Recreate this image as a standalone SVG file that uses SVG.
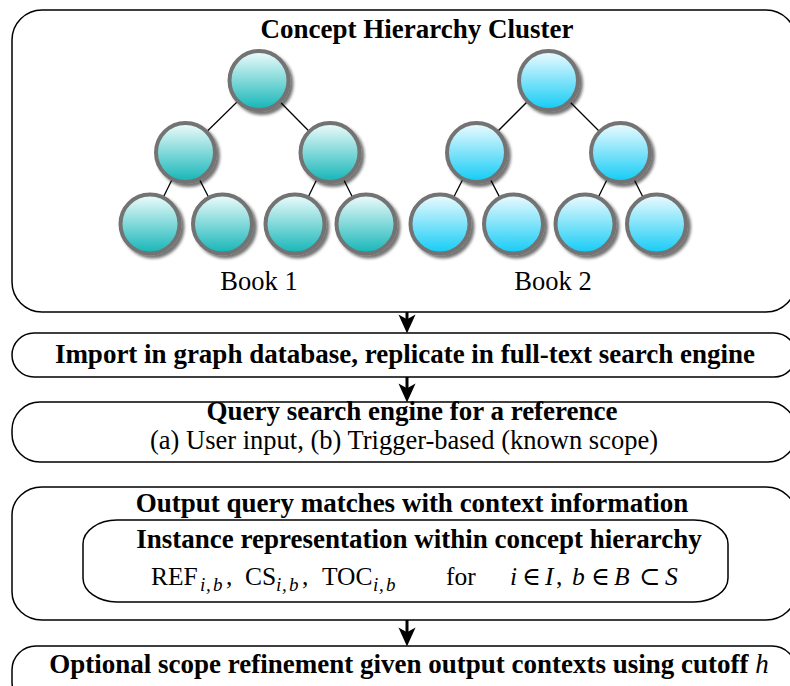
<svg xmlns="http://www.w3.org/2000/svg" width="790" height="686" viewBox="0 0 790 686">
<style>
.box{fill:none;stroke:#000;stroke-width:1.5}
.t{font-family:"Liberation Serif","Times New Roman","DejaVu Serif",serif;fill:#000}
.b{font-weight:bold;font-size:27px}
.r{font-size:26.5px}
.m{font-size:25.5px}
.s{font-size:19px;font-style:italic}
.it{font-style:italic}
.edge{stroke:#000;stroke-width:1.3}
.arr{stroke:#000;stroke-width:3;marker-end:url(#ah)}
.c1{fill:url(#g1);stroke:#737373;stroke-width:4;filter:url(#sh)}
.c2{fill:url(#g2);stroke:#737373;stroke-width:4;filter:url(#sh)}
</style>
<defs>
<linearGradient id="g1" x1="0" y1="0" x2="0" y2="1">
<stop offset="0" stop-color="#f0fcfc"/>
<stop offset="1" stop-color="#13b5b7"/>
</linearGradient>
<linearGradient id="g2" x1="0" y1="0" x2="0" y2="1">
<stop offset="0" stop-color="#effbff"/>
<stop offset="1" stop-color="#12cbf5"/>
</linearGradient>
<filter id="sh" x="-30%" y="-30%" width="160%" height="160%">
<feDropShadow dx="3" dy="3" stdDeviation="1.8" flood-color="#000" flood-opacity="0.55"/>
</filter>
<marker id="ah" viewBox="0 0 20 20" markerUnits="userSpaceOnUse" markerWidth="19" markerHeight="19" refX="8" refY="10" orient="auto">
<path d="M0,1 L20,10 L0,19 L5,10 Z" fill="#000"/>
</marker>
</defs>

<g id="connectors">
<line class="edge" x1="259" y1="80.5" x2="185.5" y2="152.5"/>
<line class="edge" x1="259" y1="80.5" x2="330" y2="152.5"/>
<line class="edge" x1="185.5" y1="152.5" x2="150" y2="224"/>
<line class="edge" x1="185.5" y1="152.5" x2="222.5" y2="224"/>
<line class="edge" x1="330" y1="152.5" x2="295" y2="224"/>
<line class="edge" x1="330" y1="152.5" x2="366" y2="224"/>
<line class="edge" x1="548.5" y1="80.5" x2="476.5" y2="152.5"/>
<line class="edge" x1="548.5" y1="80.5" x2="620.5" y2="152.5"/>
<line class="edge" x1="476.5" y1="152.5" x2="440" y2="224"/>
<line class="edge" x1="476.5" y1="152.5" x2="513.5" y2="224"/>
<line class="edge" x1="620.5" y1="152.5" x2="585" y2="224"/>
<line class="edge" x1="620.5" y1="152.5" x2="656.5" y2="224"/>
<line class="arr" x1="407" y1="312" x2="407" y2="322"/>
<line class="arr" x1="407" y1="377" x2="407" y2="391"/>
<line class="arr" x1="407" y1="620" x2="407" y2="635"/>
</g>

<g id="cluster">
<rect class="box" x="12" y="10" width="784" height="302" rx="30" ry="30"/>
<text class="t b" x="417" y="38" text-anchor="middle">Concept Hierarchy Cluster</text>
<text class="t r" x="259" y="290" text-anchor="middle">Book 1</text>
<text class="t r" x="553" y="290" text-anchor="middle">Book 2</text>
</g>

<g id="book1-root"><circle class="c1" cx="259" cy="80.5" r="29.5"/></g>
<g id="book1-l"><circle class="c1" cx="185.5" cy="152.5" r="29.5"/></g>
<g id="book1-r"><circle class="c1" cx="330" cy="152.5" r="29.5"/></g>
<g id="book1-ll"><circle class="c1" cx="150" cy="224" r="29.5"/></g>
<g id="book1-lr"><circle class="c1" cx="222.5" cy="224" r="29.5"/></g>
<g id="book1-rl"><circle class="c1" cx="295" cy="224" r="29.5"/></g>
<g id="book1-rr"><circle class="c1" cx="366" cy="224" r="29.5"/></g>

<g id="book2-root"><circle class="c2" cx="548.5" cy="80.5" r="29.5"/></g>
<g id="book2-l"><circle class="c2" cx="476.5" cy="152.5" r="29.5"/></g>
<g id="book2-r"><circle class="c2" cx="620.5" cy="152.5" r="29.5"/></g>
<g id="book2-ll"><circle class="c2" cx="440" cy="224" r="29.5"/></g>
<g id="book2-lr"><circle class="c2" cx="513.5" cy="224" r="29.5"/></g>
<g id="book2-rl"><circle class="c2" cx="585" cy="224" r="29.5"/></g>
<g id="book2-rr"><circle class="c2" cx="656.5" cy="224" r="29.5"/></g>

<g id="import">
<rect class="box" x="12" y="333" width="784" height="44" rx="22" ry="22"/>
<text class="t b" x="405" y="363" text-anchor="middle">Import in graph database, replicate in full-text search engine</text>
</g>

<g id="query">
<rect class="box" x="12" y="402" width="784" height="60" rx="28" ry="28"/>
<text class="t b" x="412" y="420" text-anchor="middle">Query search engine for a reference</text>
<text class="t" font-size="26.5" x="404" y="449" text-anchor="middle">(a) User input, (b) Trigger-based (known scope)</text>
</g>

<g id="output">
<rect class="box" x="12" y="487" width="784" height="133" rx="30" ry="28"/>
<text class="t b" x="412" y="512" text-anchor="middle">Output query matches with context information</text>
</g>

<g id="instance">
<rect class="box" x="83" y="520" width="645" height="82" rx="34" ry="24"/>
<text class="t b" x="419" y="548" text-anchor="middle">Instance representation within concept hierarchy</text>
<text class="t m" y="585"><tspan x="151">REF</tspan><tspan class="s" x="200 206 213" y="591">i,b</tspan><tspan x="226" y="585">,</tspan><tspan x="245">CS</tspan><tspan class="s" x="276 282 289" y="591">i,b</tspan><tspan x="302" y="585">,</tspan><tspan x="322">TOC</tspan><tspan class="s" x="373 379 386" y="591">i,b</tspan><tspan x="446" y="585">for</tspan><tspan class="it" x="510">i</tspan><tspan x="522">∈</tspan><tspan class="it" x="545">I</tspan><tspan x="556">,</tspan><tspan class="it" x="572">b</tspan><tspan x="591">∈</tspan><tspan class="it" x="614">B</tspan><tspan x="639">⊂</tspan><tspan class="it" x="665">S</tspan></text>
</g>

<g id="refine">
<rect class="box" x="12" y="646" width="784" height="60" rx="24" ry="24"/>
<text class="t b" x="409" y="673" text-anchor="middle">Optional scope refinement given output contexts using cutoff <tspan font-weight="normal" font-style="italic">h</tspan></text>
</g>
</svg>
